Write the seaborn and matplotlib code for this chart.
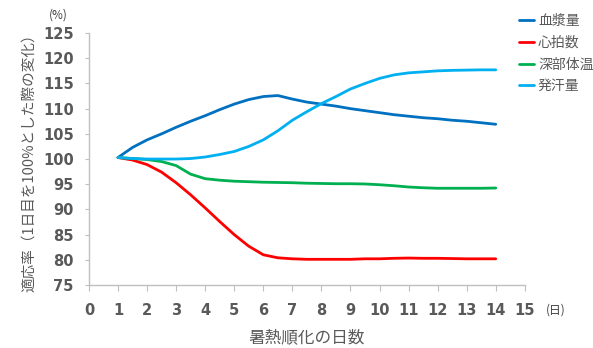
import pandas as pd
import seaborn as sns
import matplotlib.pyplot as plt

days = [1, 1.5, 2, 2.5, 3, 3.5, 4, 4.5, 5, 5.5, 6, 6.5, 7, 7.5, 8, 8.5, 9, 9.5,
        10, 10.5, 11, 11.5, 12, 12.5, 13, 13.5, 14]
plasma = [100.3, 102.3, 103.8, 105.0, 106.3, 107.5, 108.6, 109.8, 110.9, 111.8, 112.4, 112.6, 111.9,
          111.3, 110.9, 110.5, 110.0, 109.6, 109.2, 108.8, 108.5, 108.2, 108.0, 107.7, 107.5, 107.2, 106.9]
heart = [100.3, 99.8, 98.9, 97.4, 95.3, 92.9, 90.3, 87.6, 85.0, 82.7, 81.0, 80.4, 80.2,
         80.1, 80.1, 80.1, 80.1, 80.2, 80.2, 80.3, 80.35, 80.3, 80.3, 80.25, 80.2, 80.2, 80.2]
core = [100.3, 100.1, 99.9, 99.5, 98.7, 97.0, 96.1, 95.8, 95.6, 95.5, 95.4, 95.35, 95.3,
        95.2, 95.15, 95.1, 95.1, 95.05, 94.9, 94.7, 94.45, 94.3, 94.2, 94.2, 94.2, 94.2, 94.25]
sweat = [100.3, 100.1, 100.0, 100.0, 100.0, 100.1, 100.4, 100.9, 101.5, 102.5, 103.8, 105.6, 107.7,
         109.4, 111.0, 112.4, 113.9, 115.0, 116.0, 116.7, 117.1, 117.3, 117.5, 117.6, 117.65, 117.7, 117.7]

names = ['血漿量', '心拍数', '深部体温', '発汗量']
colors = ['#0070C0', '#FF0000', '#00B050', '#00B0F0']

df = pd.DataFrame({'day': days * 4,
                   'value': plasma + heart + core + sweat,
                   'series': sum([[n] * len(days) for n in names], [])})

sns.set_style('white')
plt.rcParams['font.family'] = ['Noto Sans CJK JP', 'DejaVu Sans']
grey = '#595959'

fig = plt.figure(figsize=(5.93, 3.48), dpi=100)
ax = fig.add_axes([0.150, 0.181, 0.735, 0.724])
sns.lineplot(data=df, x='day', y='value', hue='series', hue_order=names,
             palette=colors, linewidth=2.0, ax=ax, legend=False)

ax.set_xlim(0, 15)
ax.set_ylim(75, 125)
ax.set_xticks(range(0, 16))
ax.set_yticks(range(75, 126, 5))
for s in ['top', 'right']:
    ax.spines[s].set_visible(False)
for s in ['left', 'bottom']:
    ax.spines[s].set_color('#BFBFBF')
    ax.spines[s].set_linewidth(1.0)
ax.tick_params(axis='x', direction='out', length=4, color='#BFBFBF', pad=9, bottom=True)
ax.tick_params(axis='y', direction='out', length=3, color='#BFBFBF', pad=8, left=True)
for lab in ax.get_xticklabels() + ax.get_yticklabels():
    lab.set_family('DejaVu Sans')
    lab.set_fontweight('bold')
    lab.set_fontsize(10.5)
    lab.set_color(grey)

ax.set_xlabel('暑熱順化の日数', fontsize=12, color=grey, labelpad=8)
ax.set_ylabel('適応率（1日目を100%とした際の変化）', fontsize=10.5, color=grey, labelpad=4)
fig.text(0.098, 0.958, '(%)', fontsize=8.5, color='#404040', ha='center', va='center')
fig.text(0.937, 0.108, '(日)', fontsize=8.5, color='#404040', ha='center', va='center')

handles = [plt.Line2D([], [], color=c, linewidth=2.0) for c in colors]
fig.legend(handles, names, loc='upper left', bbox_to_anchor=(0.865, 0.975),
           frameon=False, fontsize=10, handlelength=1.1, handletextpad=0.3,
           labelspacing=0.55, labelcolor=grey, borderaxespad=0)

fig.savefig('out.png', dpi=100)
